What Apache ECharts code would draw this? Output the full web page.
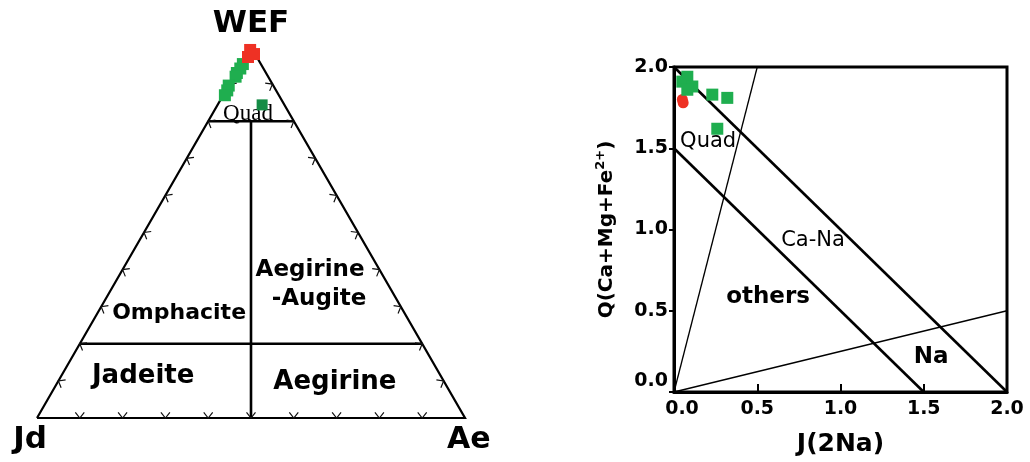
<!DOCTYPE html>
<html><head><meta charset="utf-8">
<script src="https://cdn.jsdelivr.net/npm/echarts@6/dist/echarts.min.js"></script>
<style>html,body{margin:0;padding:0;background:#fff}#c{width:1030px;height:462px}</style>
</head><body><div id="c"></div>
<script>
// ---------- Ternary diagram WEF - Jd - Ae, points as [WEF, Jd, Ae] (%) ----------
const ternVertexNames = ['Jd', 'Ae', 'WEF'];
const ternOutline = [[0, 100, 0], [0, 0, 100], [100, 0, 0], [0, 100, 0]];
const ternBoundaries = [
  [[80, 20, 0], [80, 0, 20]],
  [[20, 80, 0], [20, 0, 80]],
  [[80, 10, 10], [0, 50, 50]]
];
const ternTicks = [10, 20, 30, 40, 50, 60, 70, 80, 90];
const ternGreen = [[95.4, 4.2, 0.4], [94.2, 5.4, 0.4], [93.0, 6.8, 0.2], [92.0, 7.6, 0.4], [89.6, 10.4, 0], [88.3, 11.4, 0.3], [87.0, 12.6, 0.4]];
const ternDarkGreen = [[84.4, 5.2, 10.4]];
const ternRed = [[99.2, 0.6, 0.2], [98.1, 0.25, 1.65], [97.3, 2.05, 0.65]];
const ternFieldNames = ['Quad', 'Omphacite', 'Aegirine', '-Augite', 'Jadeite', 'Aegirine'];

// ---------- Q-J diagram ----------
const qjTicks = [0, 0.5, 1.0, 1.5, 2.0];
const qjBoundaryThick = [[[0, 2], [2, 0]], [[0, 1.5], [1.5, 0]]];
const qjBoundaryThin = [[[0, 0], [0.5, 2]], [[0, 0], [2, 0.5]]];
const qjGreen = [[0.08, 1.94], [0.05, 1.91], [0.11, 1.88], [0.08, 1.86], [0.23, 1.83], [0.32, 1.81], [0.26, 1.62]];
const qjRed = [[0.05, 1.80], [0.055, 1.78]];
const qjFieldNames = ['Quad', 'Ca-Na', 'others', 'Na'];
const qjAxisNames = ['J(2Na)', 'Q(Ca+Mg+Fe', '2+', ')'];

// ---------- helpers ----------
const H = Math.sqrt(3) / 2;
function tern(p) {
  const s = p[0] + p[1] + p[2];
  return [(p[2] + p[0] / 2) * 100 / s, p[0] * H * 100 / s];
}
const FONT = 'DejaVu Sans';
const INK = '#000';

// tick marks: small V shapes pointing into the triangle
const edges = [
  { pt: k => tern([0, 100 - k, k]), n: [0, 1], e: [1, 0] },
  { pt: k => tern([k, 100 - k, 0]), n: [H, -0.5], e: [0.5, H] },
  { pt: k => tern([k, 0, 100 - k]), n: [-H, -0.5], e: [-0.5, H] }
];
const L = 1.7, A = 38 * Math.PI / 180;
const tickData = [];
edges.forEach(ed => ternTicks.forEach(k => {
  const P = ed.pt(k);
  const arm = s => [P[0] + L * (Math.cos(A) * ed.n[0] + s * Math.sin(A) * ed.e[0]),
                    P[1] + L * (Math.cos(A) * ed.n[1] + s * Math.sin(A) * ed.e[1])];
  tickData.push({ coords: [arm(-1), P, arm(1)] });
}));

function lbl(pos, text, size, weight, family) {
  return { value: pos, label: { formatter: text, fontSize: size, fontWeight: weight || 'bold',
    fontFamily: family || FONT, color: INK, opacity: 1 } };
}
const ternLabels = [
  lbl([50, 92.0], ternVertexNames[2], 31),
  lbl([-1.6, -5.1], ternVertexNames[0], 31),
  lbl([100.9, -5.1], ternVertexNames[1], 30),
  lbl([49.3, 71.0], ternFieldNames[0], 23, 'normal', 'Liberation Serif'),
  lbl([33.2, 24.5], ternFieldNames[1], 22),
  lbl([63.8, 34.6], ternFieldNames[2], 23),
  lbl([65.9, 27.8], ternFieldNames[3], 23),
  lbl([24.8, 9.8], ternFieldNames[4], 26),
  lbl([69.6, 8.4], ternFieldNames[5], 26)
];
const qjLabels = [
  lbl([0.205, 1.54], qjFieldNames[0], 21, 'normal'),
  lbl([0.835, 0.935], qjFieldNames[1], 21, 'normal'),
  lbl([0.565, 0.585], qjFieldNames[2], 23),
  lbl([1.545, 0.215], qjFieldNames[3], 23)
];

const tickFmtStyle = { fontSize: 19, fontWeight: 'bold', fontFamily: FONT, color: INK };
const solid = c => ({ color: c, opacity: 1 });

const option = {
  animation: false,
  backgroundColor: '#fff',
  grid: [
    { left: 37, top: 47, width: 428, height: 371 },
    { left: 674, top: 67, width: 333, height: 325, show: true, borderColor: INK, borderWidth: 3, backgroundColor: 'transparent' }
  ],
  xAxis: [
    { gridIndex: 0, type: 'value', min: 0, max: 100, show: false },
    {
      gridIndex: 1, type: 'value', min: 0, max: 2, interval: 0.5,
      name: qjAxisNames[0], nameLocation: 'middle', nameGap: 40,
      nameTextStyle: { fontSize: 25, fontWeight: 'bold', fontFamily: FONT, color: INK },
      axisLine: { show: true, lineStyle: { color: INK, width: 3 } },
      axisTick: { show: true, inside: true, length: 8, lineStyle: { color: INK, width: 2 } },
      splitLine: { show: false },
      axisLabel: {
        margin: 8, ...tickFmtStyle,
        formatter: v => v === 0 ? '{z|' + v.toFixed(1) + '}' : v.toFixed(1),
        rich: { z: { ...tickFmtStyle, padding: [0, 0, 0, 16] } }
      }
    }
  ],
  yAxis: [
    { gridIndex: 0, type: 'value', min: 0, max: 100 * H, show: false },
    {
      gridIndex: 1, type: 'value', min: 0, max: 2, interval: 0.5,
      name: '{a|' + qjAxisNames[1] + '}{s|' + qjAxisNames[2] + '}{a|' + qjAxisNames[3] + '}',
      nameLocation: 'middle', nameGap: 54, nameRotate: 90,
      nameTextStyle: {
        rich: {
          a: { fontSize: 20, fontWeight: 'bold', fontFamily: FONT, color: INK, lineHeight: 26 },
          s: { fontSize: 13, fontWeight: 'bold', fontFamily: FONT, color: INK, verticalAlign: 'top', lineHeight: 26 }
        }
      },
      axisLine: { show: true, lineStyle: { color: INK, width: 3 } },
      axisTick: { show: true, inside: false, length: 5, lineStyle: { color: INK, width: 2 } },
      splitLine: { show: false },
      axisLabel: {
        margin: 6, ...tickFmtStyle,
        formatter: v => v === 0 ? '{z|' + v.toFixed(1) + '}' : v.toFixed(1),
        rich: { z: { ...tickFmtStyle, padding: [0, 0, 22, 0] } }
      }
    }
  ],
  series: [
    { type: 'lines', coordinateSystem: 'cartesian2d', xAxisIndex: 0, yAxisIndex: 0, polyline: true, silent: true, clip: false,
      lineStyle: { color: INK, width: 2.2, opacity: 1 }, data: [{ coords: ternOutline.map(tern) }] },
    { type: 'lines', coordinateSystem: 'cartesian2d', xAxisIndex: 0, yAxisIndex: 0, polyline: true, silent: true, clip: false,
      lineStyle: { color: INK, width: 2.6, opacity: 1 }, data: ternBoundaries.map(b => ({ coords: b.map(tern) })) },
    { type: 'lines', coordinateSystem: 'cartesian2d', xAxisIndex: 0, yAxisIndex: 0, polyline: true, silent: true, clip: false,
      lineStyle: { color: '#111', width: 1.2, opacity: 1 }, data: tickData },
    { type: 'scatter', xAxisIndex: 0, yAxisIndex: 0, clip: false, silent: true, symbolSize: 1, z: 3,
      itemStyle: { color: 'rgba(0,0,0,0)', opacity: 1 }, label: { show: true, position: 'inside', color: INK, opacity: 1 }, data: ternLabels },
    { type: 'scatter', xAxisIndex: 0, yAxisIndex: 0, clip: false, silent: true, symbol: 'rect', symbolSize: 12, z: 4,
      itemStyle: solid('#1fae4f'), data: ternGreen.map(tern) },
    { type: 'scatter', xAxisIndex: 0, yAxisIndex: 0, clip: false, silent: true, symbol: 'rect', symbolSize: 12, z: 5,
      itemStyle: solid('#ee3124'), data: ternRed.map(tern) },
    { type: 'scatter', xAxisIndex: 0, yAxisIndex: 0, clip: false, silent: true, symbol: 'rect', symbolSize: 11, z: 4,
      itemStyle: solid('#148c45'), data: ternDarkGreen.map(tern) },

    { type: 'lines', coordinateSystem: 'cartesian2d', xAxisIndex: 1, yAxisIndex: 1, polyline: true, silent: true,
      lineStyle: { color: INK, width: 2.6, opacity: 1 }, data: qjBoundaryThick.map(c => ({ coords: c })) },
    { type: 'lines', coordinateSystem: 'cartesian2d', xAxisIndex: 1, yAxisIndex: 1, polyline: true, silent: true,
      lineStyle: { color: INK, width: 1.3, opacity: 1 }, data: qjBoundaryThin.map(c => ({ coords: c })) },
    { type: 'scatter', xAxisIndex: 1, yAxisIndex: 1, clip: false, silent: true, symbolSize: 1, z: 3,
      itemStyle: { color: 'rgba(0,0,0,0)', opacity: 1 }, label: { show: true, position: 'inside', color: INK, opacity: 1 }, data: qjLabels },
    { type: 'scatter', xAxisIndex: 1, yAxisIndex: 1, clip: false, silent: true, symbol: 'circle', symbolSize: 11, z: 4,
      itemStyle: solid('#ee3124'), data: qjRed },
    { type: 'scatter', xAxisIndex: 1, yAxisIndex: 1, clip: false, silent: true, symbol: 'rect', symbolSize: 12, z: 5,
      itemStyle: solid('#1fae4f'), data: qjGreen }
  ]
};
const chart = echarts.init(document.getElementById('c'), null, { renderer: 'canvas' });
chart.setOption(option);
</script>
</body></html>
